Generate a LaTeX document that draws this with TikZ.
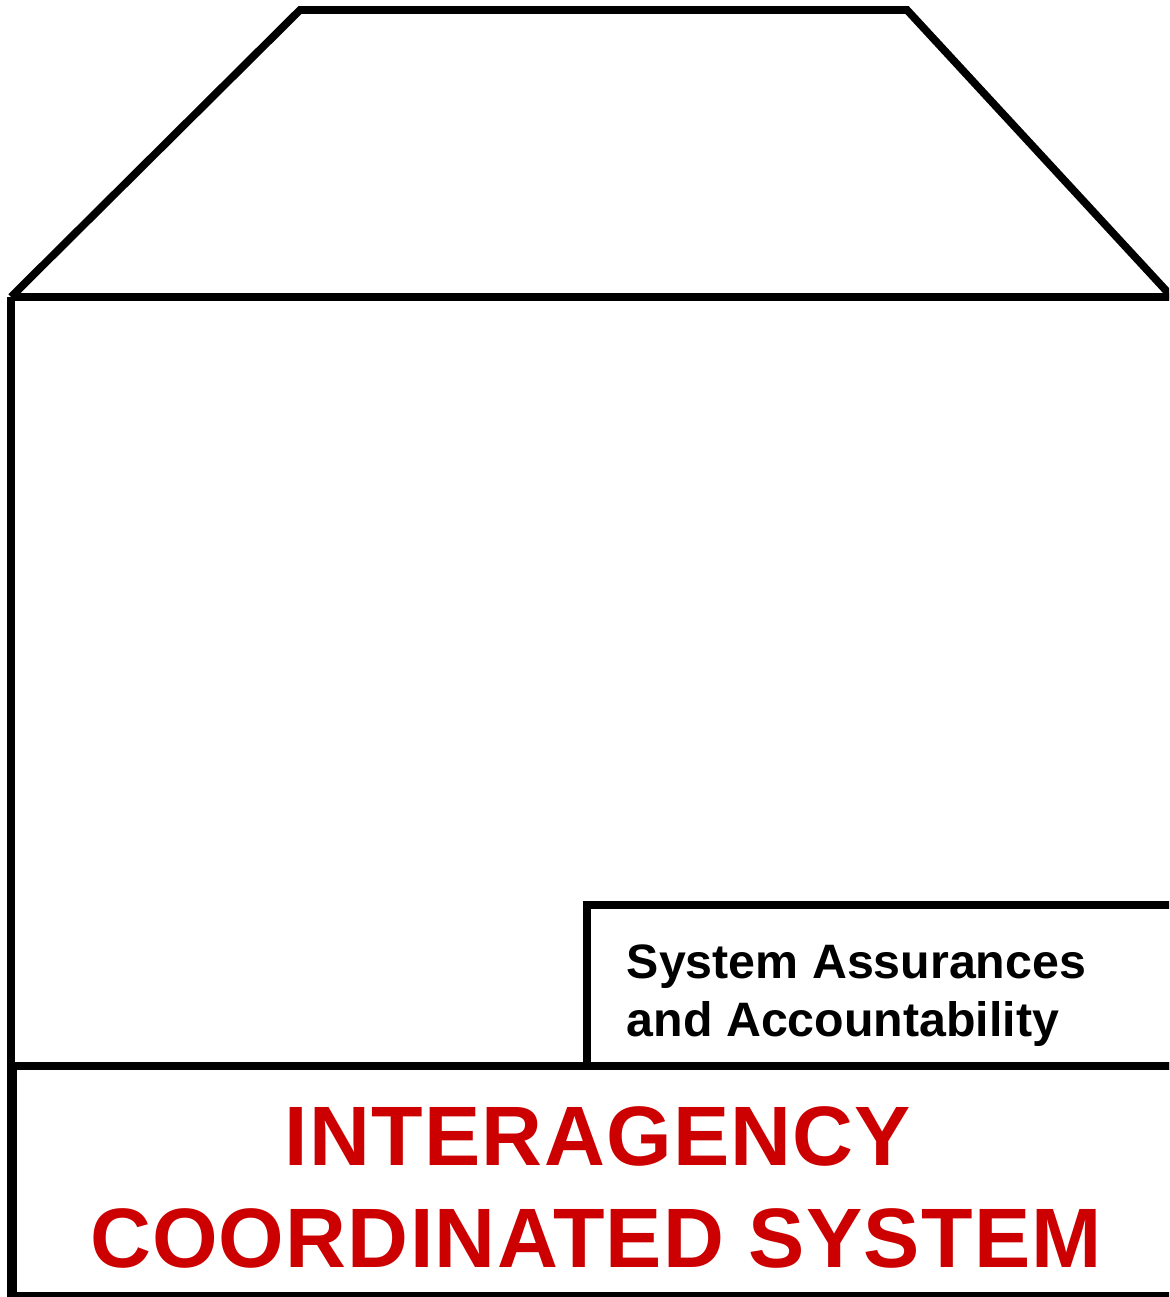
\documentclass[tikz,border=0pt]{standalone}
\usepackage{fontspec}
\setmainfont{Liberation Sans}
\newfontfamily\spacedsans[LetterSpace=1.5]{Liberation Sans}
\definecolor{signred}{RGB}{204,0,0}

\begin{document}
\begin{tikzpicture}[x=0.02cm,y=-0.02cm,line width=4.4pt]
   \useasboundingbox (0,0) rectangle (1169,1297);
   \clip (0,0) rectangle (1169,1297);
   % roof
   \draw[line join=miter] (11,297) -- (300,10) -- (907,10) -- (1172,297);
   \draw (11,297) -- (1190,297);
   % wall
   \draw (11,297) -- (11,1300);
   % foundation
   \draw (13,1066) rectangle (1190,1296);
   \draw (587,1066) rectangle (1190,905);
   \node[anchor=base west,align=left,inner sep=0pt,font=\bfseries\fontsize{27.5}{33}\selectfont]
      (saa) at (623,1036) {System Assurances\\and Accountability};
   \node[anchor=base,inner sep=0pt,text=signred,font=\spacedsans\bfseries\fontsize{48}{57.6}\selectfont]
      (ica1) at (598,1165) {INTERAGENCY};
   \node[anchor=base,inner sep=0pt,text=signred,font=\spacedsans\bfseries\fontsize{48}{57.6}\selectfont]
      (ica2) at (596,1267) {COORDINATED SYSTEM};
\end{tikzpicture}
\end{document}
